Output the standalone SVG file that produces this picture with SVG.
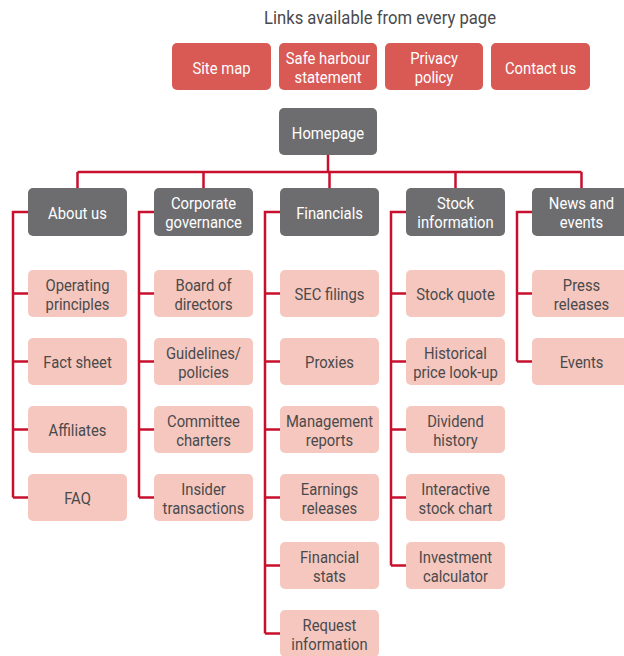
<svg xmlns="http://www.w3.org/2000/svg" width="624" height="656" viewBox="0 0 624 656">
<style>
.red{fill:#d95955}
.gray{fill:#6d6d70}
.pink{fill:#f6c7be}
text{font-family:Roboto,"Noto Sans","Liberation Sans",sans-serif;font-size:17px;text-anchor:middle}
.w{fill:#ffffff}
.d{fill:#4a4a4c}
.title{fill:#4a4a4c;font-size:18.5px}
.conn{fill:none;stroke:#c8102e;stroke-width:2.5}
</style>
<rect width="624" height="656" fill="#ffffff"/>
<text class="title" transform="translate(380 0) scale(0.9 1)" x="0" y="24">Links available from every page</text>

<g id="connectors" class="conn">
<path d="M328 155V172M77.5 172H581.5M77.5 172V188M203.5 172V188M329.5 172V188M455.5 172V188M581.5 172V188"/>
<path d="M28 212H13V497.5M13 293.5H28M13 361.5H28M13 429.5H28M13 497.5H28"/>
<path d="M154 212H139V497.5M139 293.5H154M139 361.5H154M139 429.5H154M139 497.5H154"/>
<path d="M280 212H265V633.5M265 293.5H280M265 361.5H280M265 429.5H280M265 497.5H280M265 565.5H280M265 633.5H280"/>
<path d="M406 212H391V565.5M391 293.5H406M391 361.5H406M391 429.5H406M391 497.5H406M391 565.5H406"/>
<path d="M532 212H517V361.5M517 293.5H532M517 361.5H532"/>
</g>

<g id="sitemap"><rect class="red" x="172" y="43" width="99" height="47" rx="5"/><text class="w" transform="translate(221.5 0) scale(0.87 1)" y="74">Site map</text></g>
<g id="safeharbour"><rect class="red" x="279" y="43" width="98" height="47" rx="5"/><text class="w" transform="translate(328 0) scale(0.87 1)" y="64">Safe harbour</text><text class="w" transform="translate(328 0) scale(0.87 1)" y="83">statement</text></g>
<g id="privacy"><rect class="red" x="385" y="43" width="98" height="47" rx="5"/><text class="w" transform="translate(434 0) scale(0.87 1)" y="64">Privacy</text><text class="w" transform="translate(434 0) scale(0.87 1)" y="83">policy</text></g>
<g id="contact"><rect class="red" x="491" y="43" width="99" height="47" rx="5"/><text class="w" transform="translate(540.5 0) scale(0.87 1)" y="74">Contact us</text></g>

<g id="homepage"><rect class="gray" x="279" y="108" width="98" height="47" rx="5"/><text class="w" transform="translate(328 0) scale(0.87 1)" y="139">Homepage</text></g>

<g id="aboutus"><rect class="gray" x="28" y="188" width="99" height="48" rx="5"/><text class="w" transform="translate(77.5 0) scale(0.87 1)" y="219">About us</text></g>
<g id="corpgov"><rect class="gray" x="154" y="188" width="99" height="48" rx="5"/><text class="w" transform="translate(203.5 0) scale(0.87 1)" y="209.5">Corporate</text><text class="w" transform="translate(203.5 0) scale(0.87 1)" y="228.5">governance</text></g>
<g id="financials"><rect class="gray" x="280" y="188" width="99" height="48" rx="5"/><text class="w" transform="translate(329.5 0) scale(0.87 1)" y="219">Financials</text></g>
<g id="stockinfo"><rect class="gray" x="406" y="188" width="99" height="48" rx="5"/><text class="w" transform="translate(455.5 0) scale(0.87 1)" y="209.5">Stock</text><text class="w" transform="translate(455.5 0) scale(0.87 1)" y="228.5">information</text></g>
<g id="news"><rect class="gray" x="532" y="188" width="99" height="48" rx="5"/><text class="w" transform="translate(581.5 0) scale(0.87 1)" y="209.5">News and</text><text class="w" transform="translate(581.5 0) scale(0.87 1)" y="228.5">events</text></g>

<g id="operating"><rect class="pink" x="28" y="270" width="99" height="47" rx="5"/><text class="d" transform="translate(77.5 0) scale(0.87 1)" y="291">Operating</text><text class="d" transform="translate(77.5 0) scale(0.87 1)" y="310">principles</text></g>
<g id="factsheet"><rect class="pink" x="28" y="338" width="99" height="47" rx="5"/><text class="d" transform="translate(77.5 0) scale(0.87 1)" y="368.5">Fact sheet</text></g>
<g id="affiliates"><rect class="pink" x="28" y="406" width="99" height="47" rx="5"/><text class="d" transform="translate(77.5 0) scale(0.87 1)" y="436.5">Affiliates</text></g>
<g id="faq"><rect class="pink" x="28" y="474" width="99" height="47" rx="5"/><text class="d" transform="translate(77.5 0) scale(0.87 1)" y="504.5">FAQ</text></g>

<g id="board"><rect class="pink" x="154" y="270" width="99" height="47" rx="5"/><text class="d" transform="translate(203.5 0) scale(0.87 1)" y="291">Board of</text><text class="d" transform="translate(203.5 0) scale(0.87 1)" y="310">directors</text></g>
<g id="guidelines"><rect class="pink" x="154" y="338" width="99" height="47" rx="5"/><text class="d" transform="translate(203.5 0) scale(0.87 1)" y="359">Guidelines/</text><text class="d" transform="translate(203.5 0) scale(0.87 1)" y="378">policies</text></g>
<g id="committee"><rect class="pink" x="154" y="406" width="99" height="47" rx="5"/><text class="d" transform="translate(203.5 0) scale(0.87 1)" y="427">Committee</text><text class="d" transform="translate(203.5 0) scale(0.87 1)" y="446">charters</text></g>
<g id="insider"><rect class="pink" x="154" y="474" width="99" height="47" rx="5"/><text class="d" transform="translate(203.5 0) scale(0.87 1)" y="495">Insider</text><text class="d" transform="translate(203.5 0) scale(0.87 1)" y="514">transactions</text></g>

<g id="sec"><rect class="pink" x="280" y="270" width="99" height="47" rx="5"/><text class="d" transform="translate(329.5 0) scale(0.87 1)" y="300.5">SEC filings</text></g>
<g id="proxies"><rect class="pink" x="280" y="338" width="99" height="47" rx="5"/><text class="d" transform="translate(329.5 0) scale(0.87 1)" y="368.5">Proxies</text></g>
<g id="mgmt"><rect class="pink" x="280" y="406" width="99" height="47" rx="5"/><text class="d" transform="translate(329.5 0) scale(0.87 1)" y="427">Management</text><text class="d" transform="translate(329.5 0) scale(0.87 1)" y="446">reports</text></g>
<g id="earnings"><rect class="pink" x="280" y="474" width="99" height="47" rx="5"/><text class="d" transform="translate(329.5 0) scale(0.87 1)" y="495">Earnings</text><text class="d" transform="translate(329.5 0) scale(0.87 1)" y="514">releases</text></g>
<g id="finstats"><rect class="pink" x="280" y="542" width="99" height="47" rx="5"/><text class="d" transform="translate(329.5 0) scale(0.87 1)" y="563">Financial</text><text class="d" transform="translate(329.5 0) scale(0.87 1)" y="582">stats</text></g>
<g id="request"><rect class="pink" x="280" y="610" width="99" height="47" rx="5"/><text class="d" transform="translate(329.5 0) scale(0.87 1)" y="631">Request</text><text class="d" transform="translate(329.5 0) scale(0.87 1)" y="650">information</text></g>

<g id="quote"><rect class="pink" x="406" y="270" width="99" height="47" rx="5"/><text class="d" transform="translate(455.5 0) scale(0.87 1)" y="300.5">Stock quote</text></g>
<g id="historical"><rect class="pink" x="406" y="338" width="99" height="47" rx="5"/><text class="d" transform="translate(455.5 0) scale(0.87 1)" y="359">Historical</text><text class="d" transform="translate(455.5 0) scale(0.87 1)" y="378">price look-up</text></g>
<g id="dividend"><rect class="pink" x="406" y="406" width="99" height="47" rx="5"/><text class="d" transform="translate(455.5 0) scale(0.87 1)" y="427">Dividend</text><text class="d" transform="translate(455.5 0) scale(0.87 1)" y="446">history</text></g>
<g id="interactive"><rect class="pink" x="406" y="474" width="99" height="47" rx="5"/><text class="d" transform="translate(455.5 0) scale(0.87 1)" y="495">Interactive</text><text class="d" transform="translate(455.5 0) scale(0.87 1)" y="514">stock chart</text></g>
<g id="investment"><rect class="pink" x="406" y="542" width="99" height="47" rx="5"/><text class="d" transform="translate(455.5 0) scale(0.87 1)" y="563">Investment</text><text class="d" transform="translate(455.5 0) scale(0.87 1)" y="582">calculator</text></g>

<g id="press"><rect class="pink" x="532" y="270" width="99" height="47" rx="5"/><text class="d" transform="translate(581.5 0) scale(0.87 1)" y="291">Press</text><text class="d" transform="translate(581.5 0) scale(0.87 1)" y="310">releases</text></g>
<g id="events"><rect class="pink" x="532" y="338" width="99" height="47" rx="5"/><text class="d" transform="translate(581.5 0) scale(0.87 1)" y="368.5">Events</text></g>
</svg>
